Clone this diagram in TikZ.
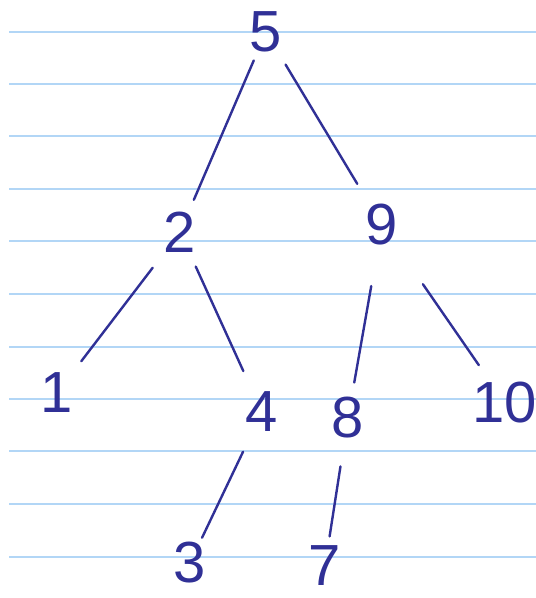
\documentclass[tikz,border=0pt]{standalone}
\usepackage{fontspec}
\setmainfont{Liberation Sans}
\definecolor{ink}{RGB}{48,48,150}
\definecolor{rule}{RGB}{178,214,246}
\begin{document}
\begin{tikzpicture}[x=1pt, y=-1pt,
  num/.style={text=ink, font=\fontsize{58}{58}\selectfont, inner sep=0pt},
  link/.style={draw=ink, line width=2.4pt, line cap=round}]
\useasboundingbox[fill=white] (0,0) rectangle (536,598);
\foreach \y in {32,84,136,189,241,294,347,399,451,504,557}
  \draw[rule, line width=1.6pt] (9,\y) -- (536,\y);
\node[num] (n5) at (266,32) {5};
\node[num] (n2) at (180,232) {2};
\node[num] (n9) at (382,225) {9};
\node[num] (n1) at (57,393) {1};
\node[num] (n4) at (262,412) {4};
\node[num] (n8) at (348,418) {8};
\node[num] (n10) at (505,403) {10};
\node[num] (n3) at (190,563) {3};
\node[num] (n7) at (325,566) {7};
\draw[link, shorten <=31pt, shorten >=35pt] (n5.center) -- (n2.center);
\draw[link, shorten <=38pt, shorten >=48pt] (n5.center) -- (n9.center);
\draw[link, shorten <=45pt, shorten >=40pt] (n2.center) -- (n1.center);
\draw[link, shorten <=38pt, shorten >=45pt] (n2.center) -- (n4.center);
\draw[link, shorten <=62pt, shorten >=36pt] (n9.center) -- (n8.center);
\draw[link, shorten <=72pt, shorten >=46pt] (n9.center) -- (n10.center);
\draw[link, shorten <=44pt, shorten >=28pt] (n4.center) -- (n3.center);
\draw[link, shorten <=49pt, shorten >=30pt] (n8.center) -- (n7.center);
\end{tikzpicture}
\end{document}
